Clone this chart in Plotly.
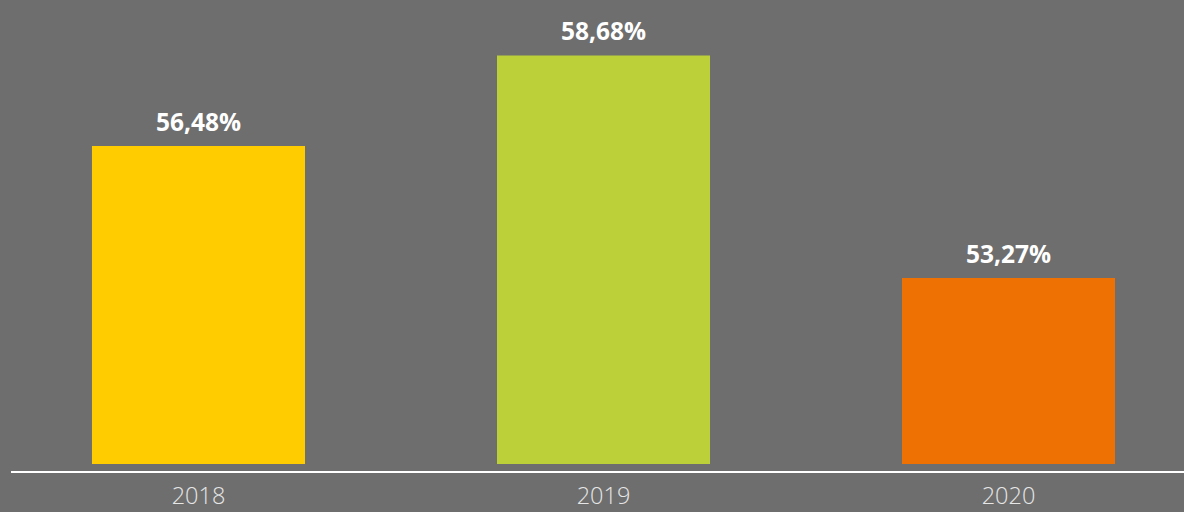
import plotly.graph_objects as go

years = ["2018", "2019", "2020"]
values = [56.48, 58.68, 53.27]
labels = ["56,48%", "58,68%", "53,27%"]
colors = ["#ffcc00", "#bcd039", "#ee7203"]

W, H = 1184, 512
bg = "#6e6e6e"
base_val = 48.75
px_per_unit = 41.14
plot_h = 464
y_top = base_val + plot_h / px_per_unit

fig = go.Figure()
fig.add_trace(go.Bar(
    x=years, y=values,
    marker=dict(color=colors, line=dict(width=0)),
    width=0.526,
    hoverinfo="skip",
))

for i, (v, lab) in enumerate(zip(values, labels)):
    fig.add_annotation(
        x=i, y=v, xref="x", yref="y", text=lab, showarrow=False,
        yanchor="bottom", yshift=6,
        font=dict(family="Open Sans", size=24.5, color="white", weight="bold"),
    )

fig.add_shape(type="line", xref="paper", yref="paper",
              x0=11 / W, x1=1, y0=-8 / plot_h, y1=-8 / plot_h,
              line=dict(color="white", width=2))

fig.update_layout(
    width=W, height=H,
    margin=dict(l=0, r=0, t=0, b=H - plot_h),
    paper_bgcolor=bg, plot_bgcolor=bg,
    showlegend=False,
    xaxis=dict(
        type="category",
        range=[-0.4901, 2.4333],
        showgrid=False, zeroline=False, showline=False,
        automargin=False,
        ticks="", ticklabelstandoff=15,
        tickfont=dict(family="Open Sans", size=23.5, color="#e6e6e6", weight=300),
    ),
    yaxis=dict(
        range=[base_val, y_top],
        visible=False, showgrid=False, zeroline=False, automargin=False,
    ),
)

fig.write_html("out.html", config={"displayModeBar": False},
               post_script="document.body.style.margin='0';")
